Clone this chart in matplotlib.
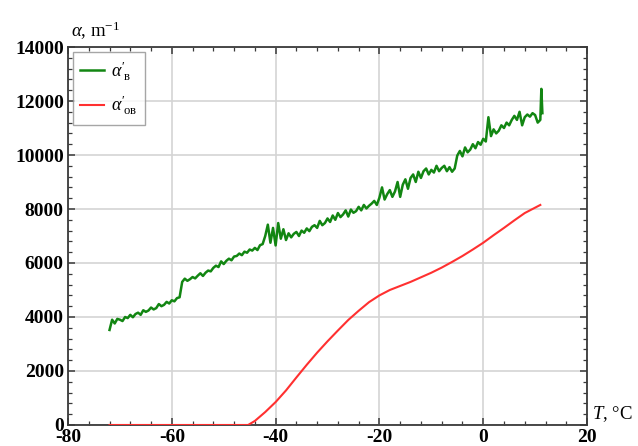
import matplotlib
matplotlib.use("Agg")
import matplotlib.pyplot as plt
from matplotlib.ticker import MultipleLocator

plt.rcParams["font.family"] = ["Liberation Serif", "DejaVu Serif"]
plt.rcParams["mathtext.fontset"] = "custom"
plt.rcParams["mathtext.rm"] = "Liberation Serif"
plt.rcParams["mathtext.it"] = "Liberation Serif:italic"
plt.rcParams["mathtext.bf"] = "Liberation Serif:bold"
plt.rcParams["axes.unicode_minus"] = False

# Measured absorption coefficient, alpha'_v (m^-1) vs temperature (deg C)
green_T = [
    -72.0, -71.5, -71.0, -70.5, -70.0, -69.5, -69.0, -68.5, -68.0, -67.5,
    -67.0, -66.5, -66.0, -65.5, -65.0, -64.5, -64.0, -63.5, -63.0, -62.5,
    -62.0, -61.5, -61.0, -60.5, -60.0, -59.5, -59.0, -58.5, -58.0, -57.5,
    -57.0, -56.5, -56.0, -55.5, -55.0, -54.5, -54.0, -53.5, -53.0, -52.5,
    -52.0, -51.5, -51.0, -50.5, -50.0, -49.5, -49.0, -48.5, -48.0, -47.5,
    -47.0, -46.5, -46.0, -45.5, -45.0, -44.5, -44.0, -43.5, -43.0, -42.5,
    -42.0, -41.5, -41.0, -40.5, -40.0, -39.5, -39.0, -38.5, -38.0, -37.5,
    -37.0, -36.5, -36.0, -35.5, -35.0, -34.5, -34.0, -33.5, -33.0, -32.5,
    -32.0, -31.5, -31.0, -30.5, -30.0, -29.5, -29.0, -28.5, -28.0, -27.5,
    -27.0, -26.5, -26.0, -25.5, -25.0, -24.5, -24.0, -23.5, -23.0, -22.5,
    -22.0, -21.5, -21.0, -20.5, -20.0, -19.5, -19.0, -18.5, -18.0, -17.5,
    -17.0, -16.5, -16.0, -15.5, -15.0, -14.5, -14.0, -13.5, -13.0, -12.5,
    -12.0, -11.5, -11.0, -10.5, -10.0, -9.5, -9.0, -8.5, -8.0, -7.5,
    -7.0, -6.5, -6.0, -5.5, -5.0, -4.5, -4.0, -3.5, -3.0, -2.5,
    -2.0, -1.5, -1.0, -0.5, 0.0, 0.5, 1.0, 1.5, 2.0, 2.5,
    3.0, 3.5, 4.0, 4.5, 5.0, 5.5, 6.0, 6.5, 7.0, 7.5,
    8.0, 8.5, 9.0, 9.5, 10.0, 10.5, 11.0, 11.2, 11.4,
]
green_alpha = [
    3520, 3900, 3760, 3930, 3900, 3850, 4000, 3960, 4080, 3990,
    4110, 4160, 4080, 4250, 4190, 4240, 4350, 4280, 4330, 4480,
    4400, 4450, 4560, 4500, 4620, 4580, 4700, 4730, 5300, 5420,
    5340, 5400, 5480, 5430, 5530, 5620, 5520, 5640, 5720, 5690,
    5820, 5900, 5850, 6060, 5960, 6080, 6160, 6100, 6240, 6260,
    6350, 6290, 6420, 6380, 6500, 6460, 6560, 6480, 6660, 6700,
    7000, 7420, 6750, 7300, 6650, 7480, 6900, 7250, 6850, 7100,
    6950, 7080, 7150, 7000, 7200, 7120, 7280, 7180, 7340, 7400,
    7300, 7560, 7400, 7480, 7650, 7520, 7760, 7600, 7850, 7700,
    7800, 7950, 7720, 7980, 7860, 7920, 8080, 7950, 8150, 8020,
    8120, 8200, 8300, 8150, 8420, 8800, 8350, 8550, 8700, 8450,
    8650, 9000, 8450, 8900, 9100, 8750, 9150, 9280, 9000, 9380,
    9150, 9400, 9500, 9280, 9450, 9350, 9600, 9400, 9520, 9600,
    9400, 9550, 9380, 9500, 9980, 10150, 9950, 10280, 10100, 10200,
    10400, 10250, 10480, 10380, 10600, 10500, 11400, 10700, 10950, 10800,
    10900, 11100, 11000, 11200, 11100, 11300, 11450, 11300, 11600, 11100,
    11400, 11500, 11420, 11550, 11480, 11200, 11300, 12450, 11550,
]

# Calculated absorption coefficient, alpha'_ov (m^-1)
red_T = [-72, -45.3, -44, -42, -40, -38, -36, -34, -32, -30, -28, -26, -24,
         -22, -20, -18, -16, -14, -12, -10, -8, -6, -4, -2, 0, 2, 4, 6,
         8, 10, 11]
red_alpha = [0, 0, 150, 480, 850, 1280, 1760, 2230, 2680, 3100, 3500, 3890,
             4230, 4550, 4800, 5000, 5150, 5300, 5470, 5640, 5830, 6040,
             6260, 6500, 6750, 7030, 7300, 7580, 7850, 8050, 8150]

x_ticks = [-80, -60, -40, -20, 0, 20]
y_ticks = [0, 2000, 4000, 6000, 8000, 10000, 12000, 14000]

fig = plt.figure(figsize=(6.38, 4.46), dpi=100)
ax = fig.add_axes([0.1066, 0.0471, 0.8135, 0.8475])

ax.plot(green_T, green_alpha, color="#128612", lw=1.8,
        label=r"$\alpha^{\prime}_{\ \mathrm{в}}$", zorder=3)
ax.plot(red_T, red_alpha, color="#ff3030", lw=1.5,
        label=r"$\alpha^{\prime}_{\ \mathrm{ов}}$", zorder=3)

ax.set_xlim(-80, 20)
ax.set_ylim(0, 14000)
ax.set_xticks(x_ticks)
ax.set_yticks(y_ticks)
ax.xaxis.set_minor_locator(MultipleLocator(4))
ax.yaxis.set_minor_locator(MultipleLocator(400))

ax.grid(True, which="major", color="#d4d4d4", lw=1.2, zorder=0)
for s in ax.spines.values():
    s.set_color("#3a3a3a")
    s.set_linewidth(1.3)

ax.tick_params(which="both", direction="in", top=True, right=True,
               color="#3a3a3a")
ax.tick_params(which="major", length=5, width=1.1)
ax.tick_params(which="minor", length=3, width=0.9)
ax.tick_params(axis="x", pad=3)
ax.tick_params(axis="y", pad=3)
for lab in ax.get_xticklabels() + ax.get_yticklabels():
    lab.set_fontweight("bold")
    lab.set_fontsize(14)

fig.text(0.112, 0.905, r"$\alpha$, m$^{\mathregular{-1}}$", fontsize=13.5,
         ha="left", va="bottom")
fig.text(0.928, 0.072, r"$T$, °C", fontsize=13.5, ha="left", va="center")

leg = ax.legend(loc="upper left", fontsize=13, frameon=True, fancybox=False,
                edgecolor="#909090", handlelength=1.35, handletextpad=0.4,
                borderaxespad=0.25, labelspacing=0.6, borderpad=0.4)
leg.get_frame().set_linewidth(1.0)

fig.savefig("out.png", dpi=100)
